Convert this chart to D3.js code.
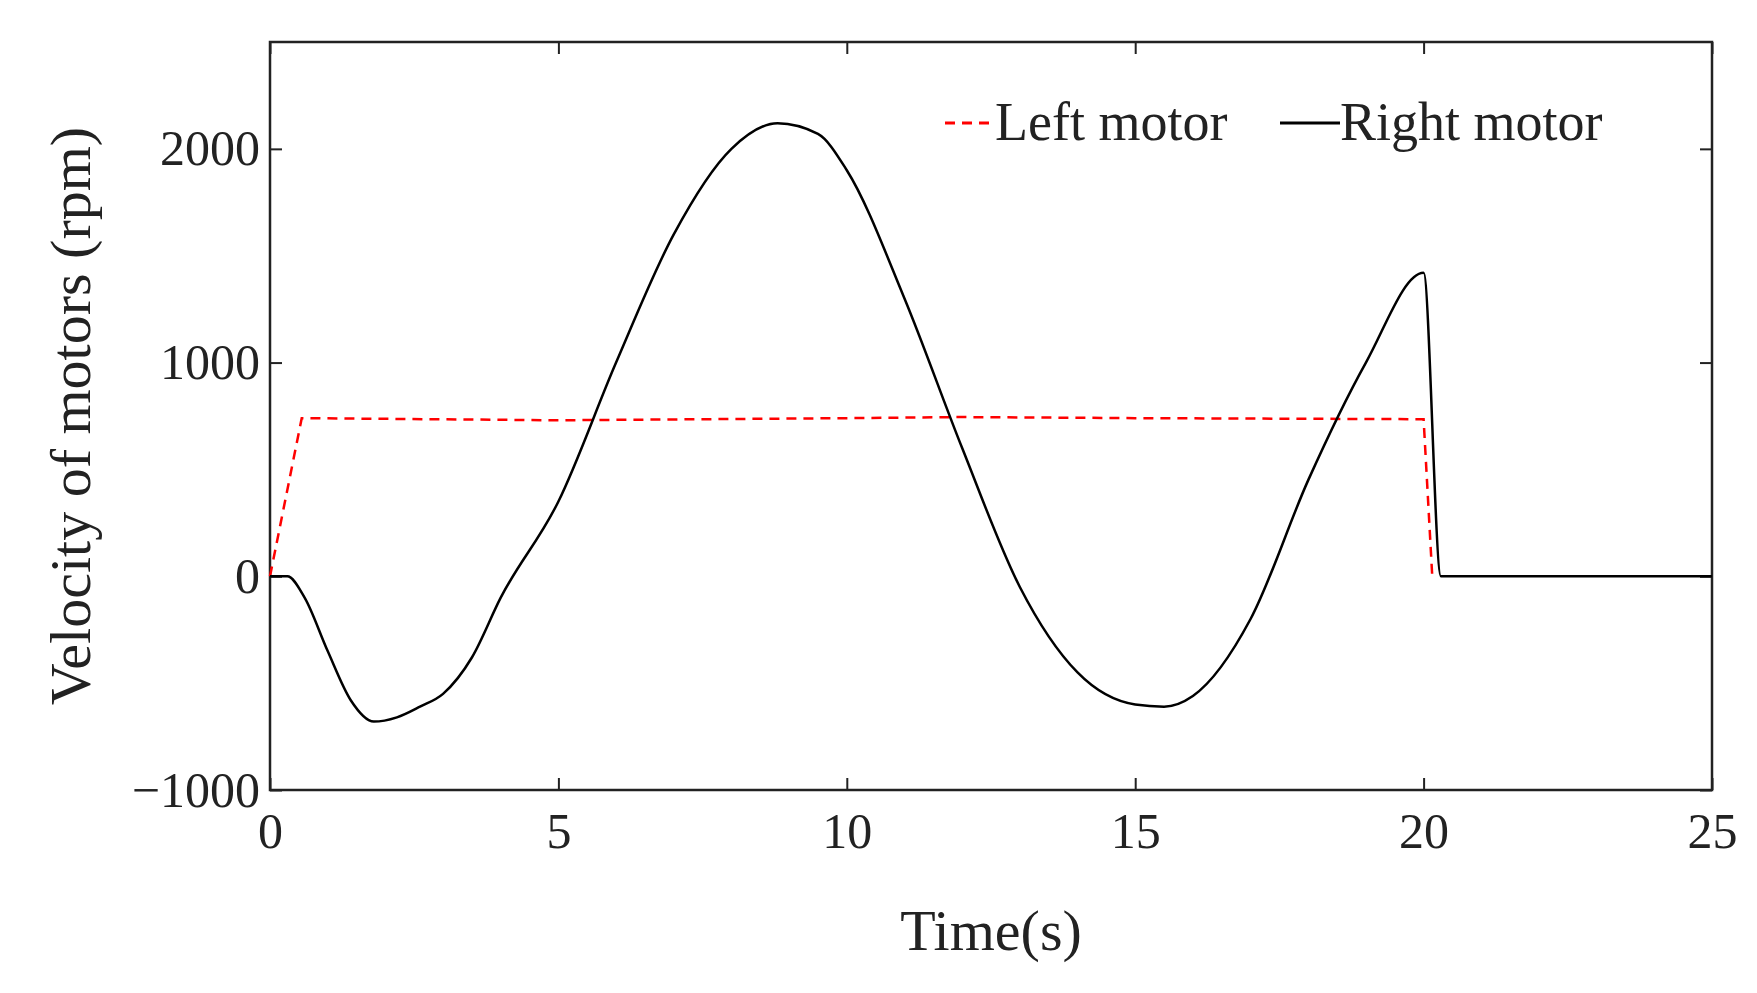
<!DOCTYPE html>
<html><head><meta charset="utf-8">
<script src="https://cdn.jsdelivr.net/npm/d3@7"></script>
<style>body{margin:0;background:#fff}text{font-family:"Liberation Serif",serif;fill:#222}</style>
</head><body>
<svg width="1757" height="993"></svg>
<script>
const rightT = [0, 0.3, 0.6, 1, 1.4, 1.8, 2.2, 2.6, 3, 3.5, 4, 5, 6, 7, 8, 8.8, 9.5, 10, 11, 12, 13, 14, 15, 15.5, 16, 17, 18, 19, 20, 20.3, 25]
const rightV = [0, 0, -100, -350, -580, -680, -660, -610, -550, -380, -100, 350, 1000, 1600, 2000, 2120, 2070, 1900, 1300, 600, -50, -450, -600, -610, -560, -200, 450, 1000, 1420, 0, 0]
const leftT = [0, 0.55, 5, 10, 12, 15, 20, 20.15]
const leftV = [0, 740, 730, 740, 745, 740, 735, 0]
const xTicks = [0, 5, 10, 15, 20, 25]
const yTicks = [-1000, 0, 1000, 2000]

const svg = d3.select('svg')
const mLeft = 270, mRight = 1712, mTop = 42, mBottom = 790
const x = d3.scaleLinear().domain([0, 25]).range([mLeft, mRight])
const y = d3.scaleLinear().domain([-1000, 2500]).range([mBottom, mTop])

function styleAxis (g) {
  g.select('.domain').remove()
  g.selectAll('line').attr('stroke', '#222').attr('stroke-width', 2)
  g.selectAll('text').style('font-size', '50px').attr('fill', '#222')
}
svg.append('g').attr('transform', 'translate(0,' + mBottom + ')')
  .call(d3.axisBottom(x).tickValues(xTicks).tickSize(-12).tickPadding(22)).call(styleAxis)
svg.append('g').attr('transform', 'translate(' + mLeft + ',0)')
  .call(d3.axisLeft(y).tickValues(yTicks).tickSize(-12).tickPadding(10).tickFormat(d => d < 0 ? '\u22121000' : d)).call(styleAxis)
svg.append('g').attr('transform', 'translate(0,' + mTop + ')')
  .call(d3.axisTop(x).tickValues(xTicks).tickSize(-12).tickFormat('')).call(styleAxis)
svg.append('g').attr('transform', 'translate(' + mRight + ',0)')
  .call(d3.axisRight(y).tickValues(yTicks).tickSize(-12).tickFormat('')).call(styleAxis)
svg.append('rect').attr('x', mLeft).attr('y', mTop).attr('width', mRight - mLeft).attr('height', mBottom - mTop)
  .attr('fill', 'none').attr('stroke', '#222').attr('stroke-width', 2.5)

const line = d3.line().x(d => x(d[0])).y(d => y(d[1]))
svg.append('path').datum(leftT.map((t, i) => [t, leftV[i]]))
  .attr('d', line).attr('fill', 'none').attr('stroke', '#ff0000').attr('stroke-width', 2.5).attr('stroke-dasharray', '10,7')
svg.append('path').datum(rightT.map((t, i) => [t, rightV[i]]))
  .attr('d', line.curve(d3.curveMonotoneX)).attr('fill', 'none').attr('stroke', '#000').attr('stroke-width', 2.5)

// legend
const ly = 123
svg.append('line').attr('x1', 945).attr('x2', 990).attr('y1', ly).attr('y2', ly)
  .attr('stroke', '#ff0000').attr('stroke-width', 3).attr('stroke-dasharray', '10,7')
svg.append('text').attr('x', 995).attr('y', ly + 17).style('font-size', '54px').text('Left motor')
svg.append('line').attr('x1', 1280).attr('x2', 1340).attr('y1', ly).attr('y2', ly)
  .attr('stroke', '#000').attr('stroke-width', 3)
svg.append('text').attr('x', 1340).attr('y', ly + 17).style('font-size', '54px').text('Right motor')

svg.append('text').attr('x', (mLeft + mRight) / 2).attr('y', 950).attr('text-anchor', 'middle')
  .style('font-size', '58px').text('Time(s)')
svg.append('text').attr('transform', 'translate(90,' + (mTop + mBottom) / 2 + ') rotate(-90)')
  .attr('text-anchor', 'middle').style('font-size', '58px').text('Velocity of motors (rpm)')
</script>
</body></html>
